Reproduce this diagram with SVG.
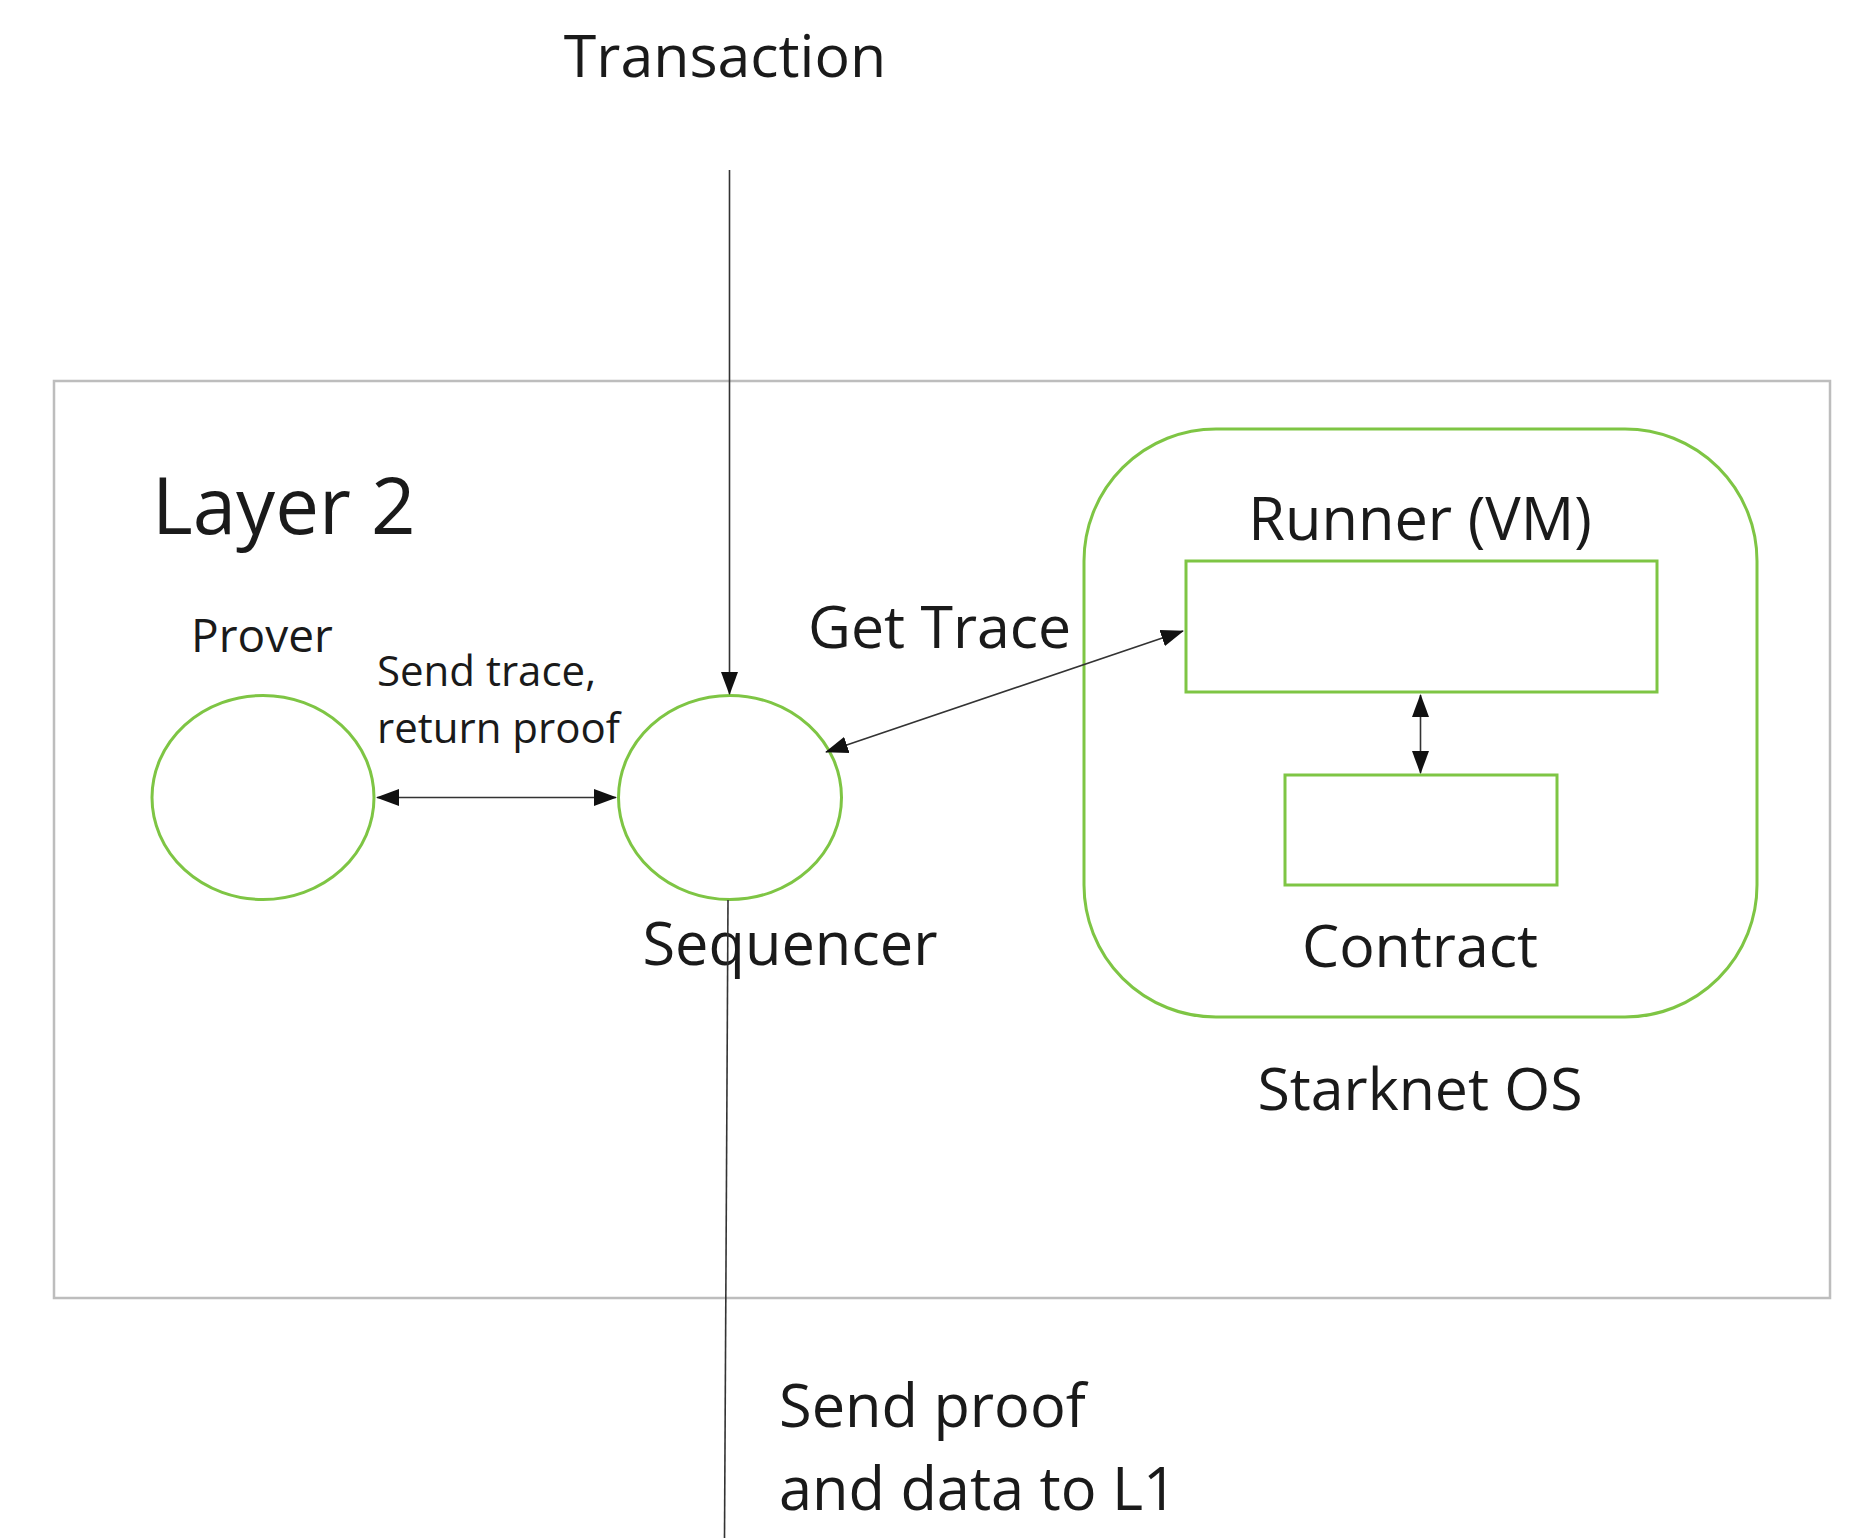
<svg xmlns="http://www.w3.org/2000/svg" width="1872" height="1538" viewBox="0 0 1872 1538">
<style>
.t{font-family:"Open Sans","Liberation Sans",sans-serif;fill:#1a1a1a}
.g{fill:none;stroke:#7ec544;stroke-width:3}
.c{fill:none;stroke:#333;stroke-width:1.6}
</style>
<defs>
<marker id="ah" markerUnits="userSpaceOnUse" markerWidth="23" markerHeight="18" refX="22" refY="8.5" orient="auto-start-reverse" viewBox="0 0 23 17">
<path d="M0,0 L23,8.5 L0,17 z" fill="#111"/>
</marker>
</defs>
<rect width="1872" height="1538" fill="#fff"/>
<g id="layer2">
<rect x="54" y="381" width="1776" height="917" fill="none" stroke="#bdbdbd" stroke-width="2.5"/>
<text class="t" x="152" y="534" font-size="78">Layer 2</text>
</g>
<g id="transaction">
<text class="t" x="725" y="77" font-size="59" text-anchor="middle">Transaction</text>
</g>
<g id="prover">
<ellipse class="g" cx="263" cy="797.5" rx="111" ry="102"/>
<text class="t" x="262" y="652" font-size="46" text-anchor="middle">Prover</text>
</g>
<g id="sequencer">
<ellipse class="g" cx="730" cy="797.5" rx="111.5" ry="102"/>
<text class="t" x="790" y="965" font-size="59.5" text-anchor="middle">Sequencer</text>
</g>
<g id="starknet-os">
<rect class="g" x="1084" y="429" width="673" height="588" rx="132" ry="132"/>
<text class="t" x="1420" y="1110" font-size="59" text-anchor="middle">Starknet OS</text>
</g>
<g id="runner">
<rect class="g" x="1186" y="561" width="471" height="131"/>
<text class="t" x="1420" y="540" font-size="59.5" text-anchor="middle">Runner (VM)</text>
</g>
<g id="contract">
<rect class="g" x="1285" y="775" width="272" height="110"/>
<text class="t" x="1420" y="967" font-size="59" text-anchor="middle">Contract</text>
</g>
<g id="connectors">
<line class="c" x1="729.5" y1="170" x2="729.5" y2="694" marker-end="url(#ah)"/>
<line class="c" x1="728" y1="900" x2="724.5" y2="1538"/>
<line class="c" x1="377" y1="797.5" x2="616" y2="797.5" marker-start="url(#ah)" marker-end="url(#ah)"/>
<line class="c" x1="826" y1="752" x2="1183" y2="631" marker-start="url(#ah)" marker-end="url(#ah)"/>
<line class="c" x1="1420.5" y1="695" x2="1420.5" y2="773" marker-start="url(#ah)" marker-end="url(#ah)"/>
<text class="t" x="377" y="686" font-size="42">Send trace,</text>
<text class="t" x="377" y="743" font-size="42">return proof</text>
<text class="t" x="808" y="648" font-size="59">Get Trace</text>
<text class="t" x="779" y="1427" font-size="59.5">Send proof</text>
<text class="t" x="779" y="1510" font-size="59.5">and data to L1</text>
</g>
</svg>
